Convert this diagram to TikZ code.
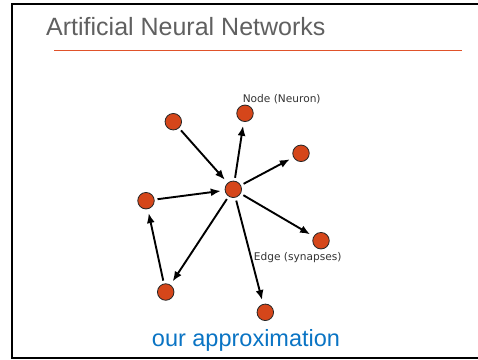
\documentclass[tikz,border=0pt]{standalone}
\usepackage{fontspec}
\setmainfont{Liberation Sans}
\newfontfamily\labelfont{DejaVu Sans}
\usetikzlibrary{arrows.meta}
\definecolor{neuronfill}{HTML}{D5461A}
\definecolor{titlegray}{HTML}{606060}
\definecolor{ruleorange}{HTML}{E0522A}
\definecolor{captionblue}{HTML}{0A74C4}
\tikzset{
  neuron/.style={circle, draw=black!85, line width=0.8pt, fill=neuronfill, minimum size=16.5pt, inner sep=0pt},
  synapse/.style={line width=1.9pt, -{Latex[length=10pt,width=8pt]}, shorten >=4pt, shorten <=3pt},
  tag/.style={font=\labelfont\fontsize{10.6}{12}\selectfont, text=black!80, inner sep=0pt}
}
\begin{document}
\begin{tikzpicture}[x=1pt,y=-1pt]
\useasboundingbox (0,0) rectangle (478,359);
\fill[white] (0,0) rectangle (478,359);
% slide frame
\draw[line width=2pt] (480,4) -- (12,4) -- (12,357.5) -- (480,357.5);
% heading and rule
\node[anchor=west, text=titlegray, font=\fontsize{25}{29}\selectfont, inner sep=0pt] (title) at (46,27) {Artificial Neural Networks};
\draw[ruleorange, line width=0.8pt] (54,50) -- (462,50);
% neurons
\node[neuron] (tl) at (173.3,121.7) {};
\node[neuron] (tp) at (245,113.3) {};
\node[neuron] (rt) at (301,153.3) {};
\node[neuron] (c)  at (233.3,189.3) {};
\node[neuron] (lf) at (146,200.7) {};
\node[neuron] (rl) at (321,240.7) {};
\node[neuron] (bl) at (165.7,292) {};
\node[neuron] (bt) at (265.3,312.3) {};
% synapses
\draw[synapse] (tl) -- (c);
\draw[synapse] (lf) -- (c);
\draw[synapse] (c) -- (tp);
\draw[synapse] (c) -- (rt);
\draw[synapse] (c) -- (rl);
\draw[synapse] (c) -- (bl);
\draw[synapse] (c) -- (bt);
\draw[synapse] (bl) -- (lf);
% labels
\node[tag] (nodelabel) at (281.7,99.3) {Node (Neuron)};
\node[tag] (edgelabel) at (297.7,257.3) {Edge (synapses)};
\node[text=captionblue, font=\fontsize{23.5}{27}\selectfont, inner sep=0pt] (caption) at (246,340) {our approximation};
\end{tikzpicture}
\end{document}
